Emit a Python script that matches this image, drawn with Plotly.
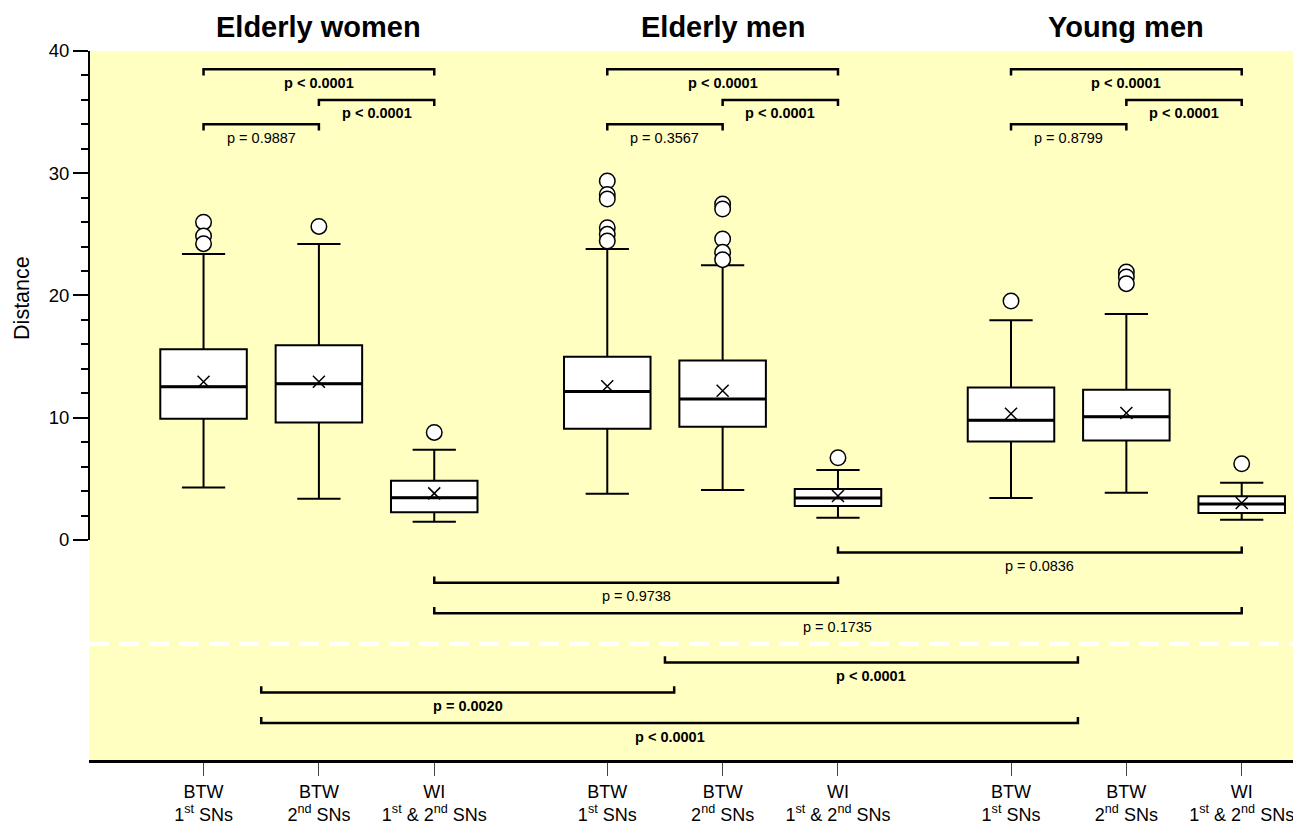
import plotly.graph_objects as go

# ---------------- data ----------------
groups = ["Elderly women", "Elderly men", "Young men"]
positions = [0, 1, 2, 3.5, 4.5, 5.5, 7, 8, 9]
tick_labels = ["BTW<br>1<sup>st</sup> SNs", "BTW<br>2<sup>nd</sup> SNs", "WI<br>1<sup>st</sup> & 2<sup>nd</sup> SNs"] * 3

q1 = [9.91, 9.61, 2.26, 9.10, 9.26, 2.78, 8.06, 8.14, 2.21]
median = [12.53, 12.77, 3.46, 12.15, 11.54, 3.43, 9.80, 10.08, 2.94]
q3 = [15.60, 15.93, 4.85, 14.98, 14.68, 4.17, 12.47, 12.28, 3.57]
lower_whisker = [4.30, 3.38, 1.50, 3.78, 4.08, 1.82, 3.43, 3.87, 1.66]
upper_whisker = [23.39, 24.21, 7.38, 23.80, 22.47, 5.72, 17.97, 18.49, 4.68]
means = [12.94, 12.94, 3.81, 12.58, 12.20, 3.59, 10.32, 10.38, 3.02]
outliers = [
    [26.0, 24.86, 24.24],
    [25.65],
    [8.80],
    [29.36, 28.27, 27.89, 25.54, 25.0, 24.46],
    [27.48, 27.07, 24.62, 23.53, 22.93],
    [6.73],
    [19.55],
    [21.92, 21.51, 20.97],
    [6.23],
]

# within-group comparisons (box index pairs within each group)
top_pairs = [(0, 2), (1, 2), (0, 1)]
top_levels = [38.5, 36.0, 34.0]
top_labels = [
    ["p < 0.0001", "p < 0.0001", "p = 0.9887"],
    ["p < 0.0001", "p < 0.0001", "p = 0.3567"],
    ["p < 0.0001", "p < 0.0001", "p = 0.8799"],
]
top_bold = [True, True, False]

# between-group comparisons
bottom_x1 = [5.5, 2, 2, 4.0, 0.5, 0.5]
bottom_x2 = [9, 5.5, 9, 7.58, 4.08, 7.58]
bottom_levels = [-1.03, -3.49, -5.99, -10.02, -12.47, -14.98]
bottom_labels = ["p = 0.0836", "p = 0.9738", "p = 0.1735", "p < 0.0001", "p = 0.0020", "p < 0.0001"]
bottom_bold = [False, False, False, True, True, True]
separator_level = -8.52

# ---------------- figure ----------------
FONT = "Liberation Sans, Arial, sans-serif"
BOX_W = 0.75
fig = go.Figure()

fig.add_trace(go.Box(
    x=positions, q1=q1, median=median, q3=q3,
    lowerfence=lower_whisker, upperfence=upper_whisker,
    orientation="v", width=BOX_W, whiskerwidth=0.5,
    fillcolor="white", line=dict(color="black", width=2),
    boxpoints=False, showlegend=False, hoverinfo="skip",
))

# thicker median lines
mx, my = [], []
for p, m in zip(positions, median):
    mx += [p - BOX_W / 2, p + BOX_W / 2, None]
    my += [m, m, None]
fig.add_trace(go.Scatter(
    x=mx, y=my, mode="lines", showlegend=False, hoverinfo="skip",
    line=dict(color="black", width=3),
))

# outliers
ox, oy = [], []
for p, vals in zip(positions, outliers):
    for v in vals:
        ox.append(p)
        oy.append(v)
fig.add_trace(go.Scatter(
    x=ox, y=oy, mode="markers", showlegend=False,
    marker=dict(symbol="circle", size=15.5, color="white", line=dict(color="black", width=1.5)),
))

# means
fig.add_trace(go.Scatter(
    x=positions, y=means, mode="markers", showlegend=False,
    marker=dict(symbol="x-thin", size=12, color="black", line=dict(color="black", width=1.5)),
))

annotations = []
tick = 0.5
gap = 1.1

bx, by = [], []
for g in range(3):
    base = positions[g * 3:(g + 1) * 3]
    for (a, b), lvl, lab, bold in zip(top_pairs, top_levels, top_labels[g], top_bold):
        x1, x2 = base[a], base[b]
        bx += [x1, x1, x2, x2, None]
        by += [lvl - tick, lvl, lvl, lvl - tick, None]
        annotations.append(dict(
            x=(x1 + x2) / 2, y=lvl - gap, xref="x", yref="y", showarrow=False,
            text=f"<b>{lab}</b>" if bold else lab,
            font=dict(family=FONT, size=14.5, color="black"), yanchor="middle",
        ))

for x1, x2, lvl, lab, bold in zip(bottom_x1, bottom_x2, bottom_levels, bottom_labels, bottom_bold):
    bx += [x1, x1, x2, x2, None]
    by += [lvl + tick, lvl, lvl, lvl + tick, None]
    annotations.append(dict(
        x=(x1 + x2) / 2, y=lvl - gap, xref="x", yref="y", showarrow=False,
        text=f"<b>{lab}</b>" if bold else lab,
        font=dict(family=FONT, size=14.5, color="black"), yanchor="middle",
    ))

fig.add_trace(go.Scatter(
    x=bx, y=by, mode="lines", showlegend=False, hoverinfo="skip",
    line=dict(color="black", width=2.5),
))

for g, name in enumerate(groups):
    annotations.append(dict(
        x=positions[g * 3 + 1], y=1.034, xref="x", yref="paper", showarrow=False,
        text=f"<b>{name}</b>", font=dict(family=FONT, size=29, color="black"),
        yanchor="middle",
    ))

annotations.append(dict(
    x=-0.0553, y=19.8, xref="paper", yref="y", showarrow=False, textangle=-90,
    text="Distance", font=dict(family=FONT, size=21.5, color="black"),
    xanchor="center", yanchor="middle",
))

shapes = [
    dict(type="line", xref="paper", yref="y", x0=0, x1=1, y0=separator_level, y1=separator_level,
         line=dict(color="white", width=4, dash="20px,10px"), layer="above"),
    dict(type="line", xref="paper", yref="y", x0=0, x1=0, y0=0, y1=40,
         line=dict(color="black", width=2)),
]

major = [0, 10, 20, 30, 40]
minor_vals = [v for v in range(2, 40, 2) if v not in major]

# page body has an 8px default margin: size figure so the plot area lands where the reference has it
fig.update_layout(
    width=1293, height=817,
    margin=dict(l=81, r=0, t=43, b=65),
    paper_bgcolor="white", plot_bgcolor="#FFFFC2",
    annotations=annotations, shapes=shapes,
    font=dict(family=FONT, color="black"),
    xaxis=dict(
        range=[-0.993, 9.514], tickmode="array", tickvals=positions, ticktext=tick_labels,
        ticks="outside", ticklen=13, tickwidth=1, tickcolor="#444",
        showline=True, linewidth=3, linecolor="black",
        showgrid=False, zeroline=False,
        tickfont=dict(family=FONT, size=18, color="black"),
    ),
    yaxis=dict(
        range=[-18, 40], tickmode="array", tickvals=major, ticktext=[str(v) for v in major],
        ticks="outside", ticklen=15, tickwidth=2, tickcolor="black",
        minor=dict(tickmode="array", tickvals=minor_vals, ticks="outside", ticklen=7,
                   tickwidth=2, tickcolor="black", showgrid=False),
        showline=False, showgrid=False, zeroline=False,
        tickfont=dict(family=FONT, size=18.5, color="black"),
    ),
)

fig.write_html("out.html")
